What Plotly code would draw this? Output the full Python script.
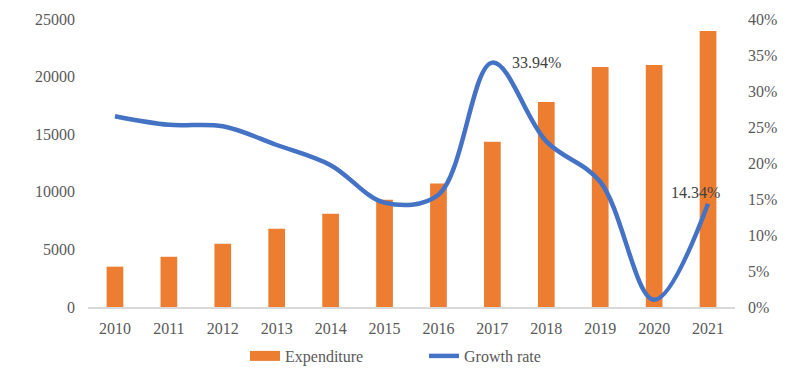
import plotly.graph_objects as go

years = ["2010", "2011", "2012", "2013", "2014", "2015", "2016", "2017", "2018", "2019", "2020", "2021"]
expenditure = [3500, 4360, 5490, 6790, 8090, 9300, 10720, 14340, 17800, 20840, 21010, 23960]
growth_rate = [0.265, 0.253, 0.251, 0.225, 0.197, 0.145, 0.156, 0.3394, 0.230, 0.174, 0.010, 0.1434]
left_ticks = [0, 5000, 10000, 15000, 20000, 25000]
right_ticks = [0, 0.05, 0.10, 0.15, 0.20, 0.25, 0.30, 0.35, 0.40]

FONT = "Liberation Serif"
GRAY = "#595959"
ORANGE = "#ED7D31"
BLUE = "#4472C4"

fig = go.Figure()
fig.add_trace(go.Bar(
    x=years, y=expenditure, name="Expenditure",
    marker=dict(color=ORANGE, line=dict(width=0)),
    yaxis="y", showlegend=False, legendgroup="exp",
))
# legend-only entry to mimic the wide rectangular legend key
fig.add_trace(go.Scatter(
    x=[None], y=[None], name="Expenditure", mode="lines",
    line=dict(color=ORANGE, width=11), legendgroup="exp", showlegend=True,
))
fig.add_trace(go.Scatter(
    x=years, y=growth_rate, name="Growth rate",
    mode="lines", line=dict(color=BLUE, width=4.5, shape="spline", smoothing=1.0),
    yaxis="y2",
))

fig.add_annotation(x=7, y=growth_rate[7], xref="x", yref="y2", text="33.94%",
                   showarrow=False, xanchor="left", yanchor="middle", xshift=18, yshift=0,
                   font=dict(family=FONT, size=16, color="#404040"))
fig.add_annotation(x=11, y=growth_rate[11], xref="x", yref="y2", text="14.34%",
                   showarrow=False, xanchor="center", yanchor="middle", xshift=-13, yshift=11,
                   font=dict(family=FONT, size=16, color="#404040"))

fig.update_layout(
    width=809, height=374,
    margin=dict(l=88, r=74, t=19, b=67, autoexpand=False),
    paper_bgcolor="white", plot_bgcolor="white",
    font=dict(family=FONT, size=16, color=GRAY),
    bargap=0.69,
    showlegend=True,
    legend=dict(orientation="h", xref="container", yref="container",
                x=245 / 809, xanchor="left", y=1 - 356 / 374, yanchor="middle",
                entrywidth=134, entrywidthmode="pixels",
                font=dict(family=FONT, size=16, color=GRAY), itemwidth=30,
                tracegroupgap=0, bgcolor="rgba(0,0,0,0)"),
    xaxis=dict(type="category", categoryorder="array", categoryarray=years,
               range=[-0.5, len(years) - 0.5], automargin=False,
               showgrid=False, showline=True, linecolor="#D9D9D9", linewidth=2,
               ticks="", ticklabelstandoff=6,
               tickfont=dict(family=FONT, size=16, color=GRAY)),
    yaxis=dict(range=[0, 25000], tickvals=left_ticks, tickformat="d", showgrid=False, zeroline=False,
               showline=False, ticks="", ticklabelstandoff=12, automargin=False,
               tickfont=dict(family=FONT, size=16, color=GRAY)),
    yaxis2=dict(range=[0, 0.40], tickvals=right_ticks, tickformat=".0%", overlaying="y",
                side="right", showgrid=False, zeroline=False, showline=False, ticks="",
                ticklabelstandoff=12, automargin=False,
                tickfont=dict(family=FONT, size=16, color=GRAY)),
)

fig.write_html("out.html", config={"displayModeBar": False},
               post_script="document.body.style.margin='0';")
